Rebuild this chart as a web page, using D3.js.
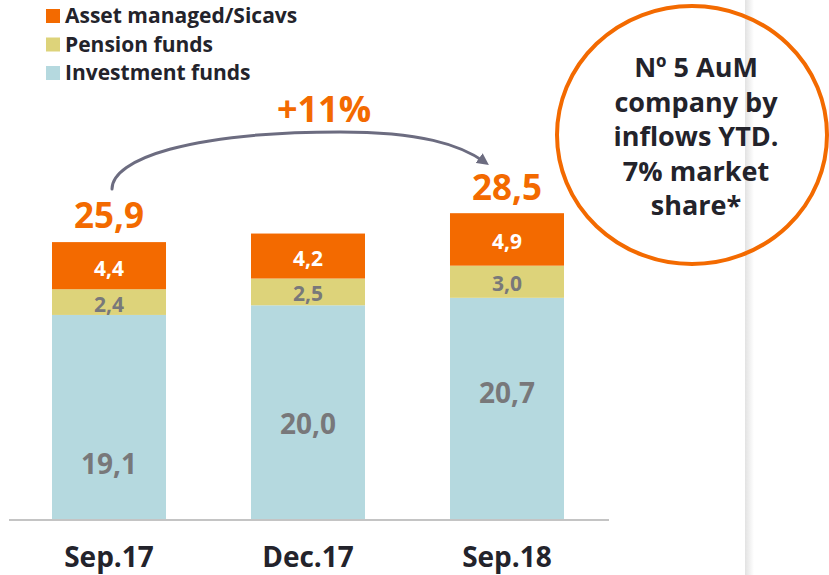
<!DOCTYPE html>
<html>
<head>
<meta charset="utf-8">
<script src="https://cdn.jsdelivr.net/npm/d3@7"></script>
<style>
  html, body { margin: 0; padding: 0; background: #fff; }
  svg { display: block; font-family: "Open Sans", "Noto Sans", sans-serif; }
</style>
</head>
<body>
<svg id="chart" width="829" height="575"></svg>
<script>
// Assets under management (bn €) by period
const periods = ["Sep.17", "Dec.17", "Sep.18"];
const investmentFunds = [19.1, 20.0, 20.7];
const pensionFunds = [2.4, 2.5, 3.0];
const assetManaged = [4.4, 4.2, 4.9];
const totals = [25.9, null, 28.5];
const seriesNames = ["Asset managed/Sicavs", "Pension funds", "Investment funds"];
const growthLabel = "+11%";
const calloutLines = ["Nº 5 AuM", "company by", "inflows YTD.", "7% market", "share*"];

const colors = {
  "Investment funds": "#b5d9df",
  "Pension funds": "#ddd37a",
  "Asset managed/Sicavs": "#f36a00"
};
const orange = "#f36a00";
const dark = "#23232b";
const grey = "#78787a";

// vertical nudge for the large investment-fund value labels
const investLabelShift = [47, 12, -16];

const fmt = v => v.toFixed(1).replace(".", ",");

const svg = d3.select("#chart");

// light page divider on the right
const defs = svg.append("defs");
const divGrad = defs.append("linearGradient").attr("id", "divider").attr("x1", 0).attr("x2", 1);
divGrad.append("stop").attr("offset", 0).attr("stop-color", "#e2e2e2");
divGrad.append("stop").attr("offset", 1).attr("stop-color", "#ffffff");
svg.append("rect").attr("x", 745).attr("y", 0).attr("width", 9).attr("height", 575)
  .attr("fill", "url(#divider)");

// scales
const baseline = 519.5;
const x = d3.scaleBand().domain(periods).range([9.5, 606.5])
  .paddingInner(0.4271).paddingOuter(0.2136);
const y = d3.scaleLinear().domain([0, 30]).range([baseline, baseline - 30 * 10.71]);

// stacked data
const rows = periods.map((p, i) => ({
  period: p,
  "Investment funds": investmentFunds[i],
  "Pension funds": pensionFunds[i],
  "Asset managed/Sicavs": assetManaged[i]
}));
const stackKeys = ["Investment funds", "Pension funds", "Asset managed/Sicavs"];
const stacked = d3.stack().keys(stackKeys)(rows);

const layers = svg.append("g").selectAll("g").data(stacked).join("g")
  .attr("fill", d => colors[d.key]);
layers.selectAll("rect").data(d => d).join("rect")
  .attr("x", d => x(d.data.period))
  .attr("width", x.bandwidth())
  .attr("y", d => y(d[1]))
  .attr("height", d => y(d[0]) - y(d[1]));

// segment value labels
stacked.forEach(layer => {
  layer.forEach((d, i) => {
    const cx = x(d.data.period) + x.bandwidth() / 2;
    const mid = (y(d[0]) + y(d[1])) / 2;
    const val = d[1] - d[0];
    let fill, size, yy;
    if (layer.key === "Investment funds") {
      fill = grey; size = 28; yy = mid + 10 + investLabelShift[i];
    } else if (layer.key === "Pension funds") {
      fill = grey; size = 21; yy = mid + 9.5;
    } else {
      fill = "#ffffff"; size = 21; yy = mid + 10;
    }
    svg.append("text")
      .attr("x", cx).attr("y", yy)
      .attr("text-anchor", "middle")
      .attr("font-size", size).attr("font-weight", 700)
      .attr("fill", fill)
      .text(fmt(val));
  });
});

// totals above bars
periods.forEach((p, i) => {
  if (totals[i] == null) return;
  svg.append("text")
    .attr("x", x(p) + x.bandwidth() / 2)
    .attr("y", y(totals[i]) - 14)
    .attr("text-anchor", "middle")
    .attr("font-size", 35).attr("font-weight", 700)
    .attr("fill", orange)
    .text(fmt(totals[i]));
});

// baseline axis
svg.append("line")
  .attr("x1", 9).attr("x2", 609).attr("y1", baseline + 0.5).attr("y2", baseline + 0.5)
  .attr("stroke", "#c4c4c4").attr("stroke-width", 2);

// category labels
const xAxis = d3.axisBottom(x).tickSize(0).tickPadding(0);
const gx = svg.append("g").attr("transform", `translate(0,${baseline})`).call(xAxis);
gx.select(".domain").remove();
gx.selectAll("text")
  .attr("y", 47).attr("dy", null)
  .attr("font-size", 28).attr("font-weight", 700)
  .attr("font-family", "'Open Sans', sans-serif")
  .attr("fill", dark);

// growth arrow from first to last bar
const arrowColor = "#6c6c80";
defs.append("marker").attr("id", "head")
  .attr("viewBox", "0 0 10 10").attr("refX", 6).attr("refY", 5)
  .attr("markerWidth", 4).attr("markerHeight", 4).attr("orient", "auto")
  .append("path").attr("d", "M0,0 L10,5 L0,10 Z").attr("fill", arrowColor);

const x0 = x(periods[0]) + x.bandwidth() / 2 + 3;
const x2 = x(periods[2]) + x.bandwidth() / 2 - 22;
const startY = y(totals[0]) - 53;
const endY = y(totals[2]) - 52;
const peakX = 340, peakY = 132;
svg.append("path")
  .attr("d", `M${x0},${startY} C${x0},${startY - 30} ${peakX - 150},${peakY} ${peakX},${peakY} C${peakX + 80},${peakY} ${x2 - 25},${endY - 18} ${x2},${endY}`)
  .attr("fill", "none")
  .attr("stroke", arrowColor).attr("stroke-width", 3)
  .attr("stroke-linecap", "round")
  .attr("marker-end", "url(#head)");

svg.append("text")
  .attr("x", 324).attr("y", 122)
  .attr("text-anchor", "middle")
  .attr("font-size", 36).attr("font-weight", 700)
  .attr("fill", orange)
  .text(growthLabel);

// legend
const legend = svg.append("g");
seriesNames.forEach((name, i) => {
  const by = 23 + i * 28.5;
  legend.append("rect").attr("x", 46).attr("y", by - 14).attr("width", 14).attr("height", 14)
    .attr("fill", colors[name]);
  legend.append("text").attr("x", 65).attr("y", by)
    .attr("font-size", 21).attr("font-weight", 700).attr("fill", dark)
    .text(name);
});

// callout bubble
svg.append("ellipse")
  .attr("cx", 692).attr("cy", 135).attr("rx", 135).attr("ry", 129)
  .attr("fill", "none").attr("stroke", orange).attr("stroke-width", 4);
calloutLines.forEach((line, i) => {
  svg.append("text")
    .attr("x", 696).attr("y", 77 + i * 34.5)
    .attr("text-anchor", "middle")
    .attr("font-size", 27).attr("font-weight", 700).attr("fill", dark)
    .text(line);
});
</script>
</body>
</html>
